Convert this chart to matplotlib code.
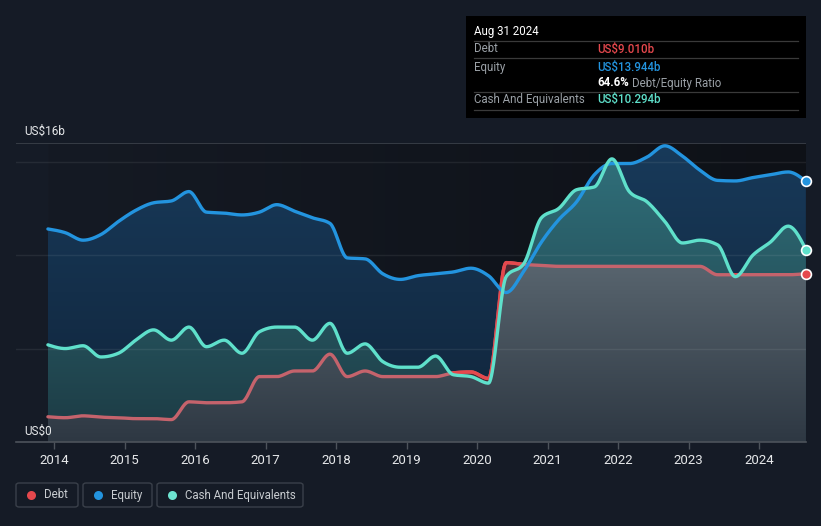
import numpy as np
import pandas as pd
import matplotlib
matplotlib.use("Agg")
import matplotlib.pyplot as plt
from matplotlib.patches import Polygon, FancyBboxPatch, Rectangle
from matplotlib.lines import Line2D

# ---------------- data (US$ billions) ----------------
dates = ["2013-11-30", "2014-02-28", "2014-05-31", "2014-08-31", "2014-11-30",
         "2015-02-28", "2015-05-31", "2015-08-31", "2015-11-30", "2016-02-29",
         "2016-05-31", "2016-08-31", "2016-11-30", "2017-02-28", "2017-05-31",
         "2017-08-31", "2017-11-30", "2018-02-28", "2018-05-31", "2018-08-31",
         "2018-11-30", "2019-02-28", "2019-05-31", "2019-08-31", "2019-11-30",
         "2020-02-29", "2020-05-31", "2020-08-31", "2020-11-30", "2021-02-28",
         "2021-05-31", "2021-08-31", "2021-11-30", "2022-02-28", "2022-05-31",
         "2022-08-31", "2022-11-30", "2023-02-28", "2023-05-31", "2023-08-31",
         "2023-11-30", "2024-02-29", "2024-05-31", "2024-08-31"]

debt = [1.35, 1.30, 1.40, 1.33, 1.30, 1.25, 1.25, 1.20, 2.15, 2.10,
        2.10, 2.15, 3.50, 3.50, 3.80, 3.80, 4.70, 3.50, 3.80, 3.50,
        3.50, 3.50, 3.50, 3.70, 3.75, 3.40, 9.60, 9.50, 9.45, 9.40,
        9.40, 9.40, 9.40, 9.40, 9.40, 9.40, 9.40, 9.40, 8.95, 8.95,
        8.95, 8.95, 8.95, 9.010]

equity = [11.40, 11.20, 10.80, 11.10, 11.80, 12.40, 12.80, 12.90, 13.40, 12.30,
          12.25, 12.15, 12.30, 12.70, 12.35, 12.00, 11.70, 9.85, 9.80, 9.00,
          8.70, 8.90, 9.00, 9.10, 9.30, 8.90, 8.00, 9.15, 10.70, 11.90,
          12.85, 14.30, 14.90, 14.90, 15.25, 15.85, 15.30, 14.55, 14.00, 13.97,
          14.15, 14.30, 14.45, 13.944]

cash = [5.20, 5.00, 5.15, 4.55, 4.75, 5.45, 6.00, 5.45, 6.15, 5.10,
        5.45, 4.75, 5.90, 6.15, 6.15, 5.45, 6.35, 4.75, 5.25, 4.30,
        4.00, 4.00, 4.60, 3.60, 3.50, 3.15, 8.85, 9.55, 12.00, 12.50,
        13.50, 13.65, 15.15, 13.40, 12.85, 11.80, 10.65, 10.80, 10.55, 8.85,
        10.00, 10.70, 11.55, 10.294]

year_ticks = [2014, 2015, 2016, 2017, 2018, 2019, 2020, 2021, 2022, 2023, 2024]

# ---------------- helpers ----------------
W, H = 821, 526
BG = "#151b26"
C_DEBT = "#e5484d"
C_EQ = "#2394df"
C_CASH = "#5fe0cb"


def frac_year(s):
    d = pd.Timestamp(s)
    n = 366 if d.is_leap_year else 365
    return d.year + (d.dayofyear - 0.5) / n


def monotone(x, y, per=24):
    x = np.asarray(x, float)
    y = np.asarray(y, float)
    h = np.diff(x)
    s = np.diff(y) / h
    m = np.zeros_like(y)
    for k in range(1, len(x) - 1):
        p = (s[k - 1] * h[k] + s[k] * h[k - 1]) / (h[k - 1] + h[k])
        m[k] = (np.sign(s[k - 1]) + np.sign(s[k])) * min(abs(s[k - 1]), abs(s[k]), 0.5 * abs(p))
    m[0] = (3 * s[0] - m[1]) / 2
    m[-1] = (3 * s[-1] - m[-2]) / 2
    xs, ys = [], []
    for k in range(len(x) - 1):
        tt = np.linspace(0, 1, per, endpoint=False)
        h00 = 2 * tt**3 - 3 * tt**2 + 1
        h10 = tt**3 - 2 * tt**2 + tt
        h01 = -2 * tt**3 + 3 * tt**2
        h11 = tt**3 - tt**2
        xs.append(x[k] + tt * h[k])
        ys.append(h00 * y[k] + h10 * h[k] * m[k] + h01 * y[k + 1] + h11 * h[k] * m[k + 1])
    xs.append([x[-1]])
    ys.append([y[-1]])
    return np.concatenate(xs), np.concatenate(ys)


def px(x, y):
    return x / W, 1 - y / H


def hex2rgb(c):
    c = c.lstrip("#")
    return np.array([int(c[i:i + 2], 16) / 255 for i in (0, 2, 4)])


t = np.array([frac_year(d) for d in dates])
xd, yd = monotone(t, debt)
xe, ye = monotone(t, equity)
xc, yc = monotone(t, cash)

plt.rcParams["font.family"] = ["Roboto", "DejaVu Sans"]
fig = plt.figure(figsize=(W / 100, H / 100), dpi=100, facecolor=BG)

# axes: x px 16..806, y px 143 (16b) .. 442 (0)
x_left = 2014 + (16 - 54) / 70.5
x_right = 2014 + (806 - 54) / 70.5
ax = fig.add_axes([16 / W, 1 - 442 / H, (806 - 16) / W, (442 - 143) / H])
ax.set_facecolor(BG)
ax.set_xlim(x_left, x_right)
ax.set_ylim(0, 16)
for sp in ax.spines.values():
    sp.set_visible(False)

# darker plot region over data span (horizontal gradient)
gl = hex2rgb("#151a24")
gr = hex2rgb("#0e1117")
g = np.linspace(0, 1, 256)[None, :, None]
img = gl[None, None, :] * (1 - g) + gr[None, None, :] * g
ax.imshow(img, extent=[t[0], t[-1], 0, 16], aspect="auto", origin="lower", zorder=0.5,
          interpolation="bilinear")


def grad_fill(xx, yy, top, bottom, z):
    verts = np.column_stack([np.r_[xx, xx[::-1]], np.r_[yy, np.zeros_like(yy)]])
    poly = Polygon(verts, closed=True, facecolor="none", edgecolor="none")
    ax.add_patch(poly)
    ct, cb = hex2rgb(top), hex2rgb(bottom)
    v = np.linspace(0, 1, 256)[:, None, None]
    im_arr = cb[None, None, :] * (1 - v) + ct[None, None, :] * v
    im = ax.imshow(im_arr, extent=[t[0], t[-1], 0, 16], aspect="auto", origin="lower",
                   zorder=z, interpolation="bilinear")
    im.set_clip_path(poly)


grad_fill(xe, ye, "#183a5a", "#10243a", 1)
grad_fill(xc, yc, "#31727d", "#1c3a43", 2)
grad_fill(xd, yd, "#75838c", "#2e3843", 3)

# reddish region where debt is above cash
ax.fill_between(xd, yc, yd, where=yd > yc, color="#4d2832", lw=0, zorder=3.5, interpolate=True)

# gridlines
for v in (5, 10, 15):
    ax.axhline(v, color="white", alpha=0.07, lw=1, zorder=4)
ax.axhline(16, color="#3c424b", lw=1.2, zorder=4)
ax.axhline(0, color="#4d535b", lw=1.2, zorder=4, clip_on=False)

# lines
ax.plot(xe, ye, color=C_EQ, lw=2.4, zorder=6, solid_capstyle="round")
ax.plot(xd, yd, color="#c5636c", lw=2.4, zorder=5, solid_capstyle="round")
yd_hi = np.where(yd > yc + 0.05, yd, np.nan)
ax.plot(xd, yd_hi, color=C_DEBT, lw=2.4, zorder=5.5)
ax.plot(xc, yc, color=C_CASH, lw=2.4, zorder=7, solid_capstyle="round")

# end markers
for yy, c in ((equity[-1], C_EQ), (cash[-1], C_CASH), (debt[-1], C_DEBT)):
    ax.scatter([t[-1]], [yy], s=50, facecolor=c, edgecolor="white", lw=1.2, zorder=9, clip_on=False)

# x ticks
ax.set_xticks(year_ticks)
ax.set_xticklabels([str(y) for y in year_ticks])
ax.tick_params(axis="x", colors="#4d535b", length=5, width=1, labelcolor="#e6e8ea",
               labelsize=9.5, pad=4)
ax.set_yticks([])

# y labels
fig.text(*px(24, 131), "US$16b", color="#e6e8ea", fontsize=8.5, va="center", ha="left")
fig.text(*px(24, 431), "US$0", color="#e6e8ea", fontsize=8.5, va="center", ha="left")

# tooltip box
fig.patches.append(Rectangle(px(466, 118), 340 / W, 102 / H, transform=fig.transFigure,
                             facecolor="black", edgecolor="none", zorder=10))
for yy in (41, 58, 92, 110):
    fig.add_artist(Line2D([474 / W, 798 / W], [1 - yy / H] * 2, color="#3a3a3a", lw=0.9, zorder=11))
fig.text(*px(474, 31), "Aug 31 2024", color="white", fontsize=8.3, va="center", zorder=12)
fig.text(*px(474, 49), "Debt", color="#9aa0a6", fontsize=8.3, va="center", zorder=12)
fig.text(*px(474, 67), "Equity", color="#9aa0a6", fontsize=8.3, va="center", zorder=12)
fig.text(*px(474, 100), "Cash And Equivalents", color="#9aa0a6", fontsize=8.3, va="center", zorder=12)
fig.text(*px(597, 49), "US$9.010b", color=C_DEBT, fontsize=8.3, va="center", weight="medium", zorder=12)
fig.text(*px(597, 67), "US$13.944b", color=C_EQ, fontsize=8.3, va="center", weight="medium", zorder=12)
fig.text(*px(597, 100), "US$10.294b", color=C_CASH, fontsize=8.3, va="center", weight="medium", zorder=12)
tr = fig.text(*px(597, 83), "64.6%", color="white", fontsize=8.3, va="center", weight="bold", zorder=12)
fig.canvas.draw()
bb = tr.get_window_extent()
fig.text((bb.x1 + 3) / W, 1 - 83 / H, "Debt/Equity Ratio", color="#9aa0a6", fontsize=8.3,
         va="center", zorder=12)

# legend
items = [(16, 78, "Debt", C_DEBT), (83, 152, "Equity", C_EQ), (157, 303, "Cash And Equivalents", "#6de3d0")]
for x0, x1, lab, c in items:
    fig.patches.append(FancyBboxPatch(px(x0, 507), (x1 - x0) / W, 24 / H,
                                      boxstyle="round,pad=0,rounding_size=0.004",
                                      transform=fig.transFigure, facecolor="none",
                                      edgecolor="#3a404a", lw=1))
    fig.add_artist(Line2D([(x0 + 15) / W], [1 - 495 / H], marker="o", markersize=6.5,
                          color=c, markeredgewidth=0, linestyle="none"))
    fig.text(*px(x0 + 28, 495), lab, color="#c8ccd0", fontsize=8.3, va="center")

fig.savefig("out.png", dpi=100, facecolor=BG)
